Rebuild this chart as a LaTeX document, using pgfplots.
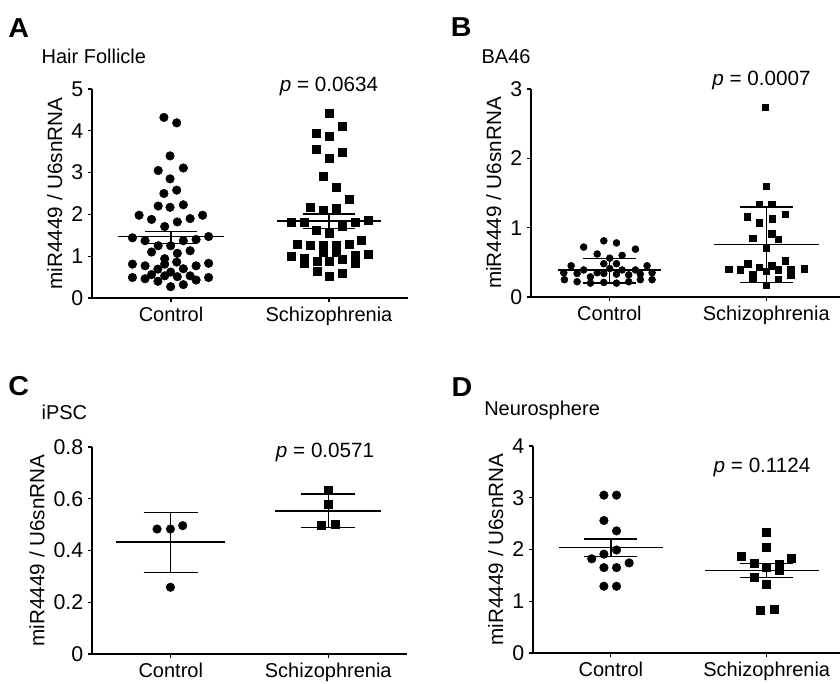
\documentclass[border=0pt]{standalone}
\usepackage{fontspec}
\setmainfont{Liberation Sans}
\usepackage{graphicx}
\usepackage{pgfplots}
\pgfplotsset{compat=1.18}

% 1 px of the reference = 0.75pt
\newcommand{\fs}{\fontsize{15}{18}\selectfont}
\newcommand{\fl}{\fontsize{15.5}{18}\selectfont}
\newcommand{\plabel}[1]{\scalebox{1.05}[1]{\fontsize{20.5}{24}\selectfont\bfseries #1}}
\pgfplotsset{
  panel/.style={
    scale only axis, anchor=south west, clip=false,
    axis lines=left, axis line style={-, line width=0.8pt},
    tick align=outside, major tick length=3pt,
    tick style={black, line width=0.8pt},
    xmin=0.5, xtick={1,2}, xticklabels={Control,Schizophrenia},
    xticklabel style={font=\fs},
    yticklabel style={font=\fontsize{16}{18}\selectfont},
    /pgf/number format/assume math mode=true,
    ylabel={miR4449 / U6snRNA}, ylabel style={font=\fl},
  },
  ctrl/.style={only marks, mark=*, mark size=3.2pt, mark options={draw=black, fill=black}},
  scz/.style={only marks, mark=square*, mark size=3pt, mark options={draw=black, fill=black}},
}
\newcommand{\hseg}[3]{\addplot[black, line width=1pt] coordinates {(#1,#3) (#2,#3)};}
\newcommand{\vseg}[3]{\addplot[black, line width=1pt] coordinates {(#1,#2) (#1,#3)};}

\begin{document}
\begin{tikzpicture}
\path[use as bounding box] (0,0) rectangle (630pt,-513pt);

% ---------- A ----------
\node[anchor=west, inner sep=0] at (6pt,-21pt) {\plabel{A}};
\node[anchor=west, inner sep=0, font=\fs] at (31pt,-42pt) {Hair Follicle};
\begin{axis}[panel, at={(69pt,-223.5pt)}, width=237pt, height=156.75pt,
  xmax=2.5, ymin=0, ymax=5, ytick={0,1,2,3,4,5}]
\addplot[ctrl] table {
0.955 4.32
1.036 4.19
0.994 3.40
0.919 3.05
1.078 3.11
0.994 2.85
0.955 2.50
1.036 2.58
0.919 2.20
0.994 2.17
1.078 2.23
0.798 1.98
0.877 1.88
1.040 1.82
1.121 1.90
1.200 1.98
0.960 1.71
0.756 1.44
0.836 1.37
0.919 1.25
0.998 1.25
1.078 1.37
1.159 1.40
1.238 1.47
0.877 1.10
1.040 1.07
1.121 1.13
0.960 0.94
0.756 0.81
0.836 0.77
0.960 0.81
1.036 0.86
0.917 0.69
1.078 0.70
1.159 0.77
1.238 0.83
0.756 0.49
0.836 0.46
0.877 0.56
0.917 0.40
0.960 0.53
0.998 0.62
1.040 0.51
1.121 0.53
1.159 0.43
1.238 0.49
0.998 0.27
1.078 0.32
};
\addplot[scz] table {
2.000 4.43
2.081 4.11
1.919 3.94
2.000 3.88
1.919 3.57
2.081 3.49
2.000 3.35
1.962 2.92
2.047 2.66
2.127 2.36
1.881 2.18
1.962 2.11
2.047 2.15
1.762 1.82
1.843 1.80
2.166 1.82
2.246 1.87
1.919 1.63
2.000 1.56
2.081 1.72
1.800 1.28
1.881 1.26
1.962 1.25
2.047 1.26
1.962 1.10
2.047 1.10
2.127 1.29
2.204 1.39
1.762 1.00
1.843 0.95
1.843 0.83
1.924 0.88
2.000 0.88
2.081 0.93
2.166 1.02
2.166 0.83
2.246 1.04
1.924 0.65
2.000 0.51
2.081 0.59
};
\hseg{0.665}{1.335}{1.47} \hseg{0.834}{1.166}{1.595} \hseg{0.834}{1.166}{1.31} \vseg{1}{1.31}{1.595}
\hseg{1.668}{2.332}{1.84} \hseg{1.834}{2.166}{2.01} \hseg{1.834}{2.166}{1.66} \vseg{2}{1.66}{2.01}
\node[font=\fl] at (axis cs:2,5.05) {\textit{p} = 0.0634};
\end{axis}

% ---------- B ----------
\node[anchor=west, inner sep=0] at (338pt,-20.5pt) {\plabel{B}};
\node[anchor=west, inner sep=0, font=\fs] at (361pt,-42.75pt) {BA46};
\begin{axis}[panel, at={(398.25pt,-222.75pt)}, width=231.75pt, height=156pt,
  xmax=2.47, ymin=0, ymax=3, ytick={0,1,2,3},
  ctrl/.append style={mark size=2.6pt}, scz/.append style={mark size=2.4pt}]
\addplot[ctrl] table {
0.964 0.81
1.045 0.78
0.836 0.72
1.166 0.69
0.922 0.62
1.002 0.56
1.081 0.60
0.756 0.45
0.964 0.48
1.045 0.48
1.240 0.45
0.836 0.39
0.922 0.35
1.002 0.41
1.081 0.39
1.166 0.39
0.709 0.35
1.272 0.35
0.794 0.34
0.879 0.29
0.964 0.34
1.045 0.33
1.123 0.32
1.197 0.33
0.713 0.25
0.794 0.22
0.879 0.20
0.964 0.21
1.045 0.20
1.123 0.22
1.197 0.25
1.272 0.25
};
\addplot[scz] table {
1.994 2.74
2.000 1.60
1.957 1.34
2.036 1.34
1.877 1.16
1.957 1.07
2.040 1.13
2.121 1.19
1.915 0.85
2.036 0.91
2.078 0.83
2.000 0.70
2.121 0.52
1.760 0.40
1.881 0.48
1.834 0.39
1.957 0.43
2.036 0.45
2.078 0.39
2.157 0.40
2.242 0.41
1.915 0.33
2.000 0.37
2.157 0.31
1.915 0.28
2.078 0.26
2.000 0.17
};
\hseg{0.67}{1.33}{0.39} \hseg{0.83}{1.17}{0.56} \hseg{0.83}{1.17}{0.20} \vseg{1}{0.20}{0.56}
\hseg{1.665}{2.335}{0.755} \hseg{1.83}{2.17}{1.30} \hseg{1.83}{2.17}{0.21} \vseg{2}{0.21}{1.30}
\node[font=\fl] at (axis cs:1.97,3.13) {\textit{p} = 0.0007};
\end{axis}

% ---------- C ----------
\node[anchor=west, inner sep=0] at (6pt,-289.5pt) {\plabel{C}};
\node[anchor=west, inner sep=0, font=\fs] at (31pt,-309pt) {iPSC};
\begin{axis}[panel, at={(69pt,-490.5pt)}, width=236.25pt, height=155.25pt,
  xmax=2.5, ymin=0, ymax=0.8, ytick={0,0.2,0.4,0.6,0.8}]
\addplot[ctrl] table {
0.913 0.483
0.998 0.483
1.076 0.496
0.998 0.258
};
\addplot[scz] table {
2.000 0.631
2.000 0.580
1.957 0.496
2.043 0.502
};
\hseg{0.655}{1.345}{0.433} \hseg{0.828}{1.172}{0.546} \hseg{0.828}{1.172}{0.316} \vseg{1}{0.316}{0.546}
\hseg{1.665}{2.335}{0.553} \hseg{1.83}{2.17}{0.618} \hseg{1.83}{2.17}{0.488} \vseg{2}{0.488}{0.618}
\node[font=\fl] at (axis cs:1.98,0.78) {\textit{p} = 0.0571};
\end{axis}

% ---------- D ----------
\node[anchor=west, inner sep=0] at (338.5pt,-290pt) {\plabel{D}};
\node[anchor=west, inner sep=0, font=\fs] at (363pt,-307.5pt) {Neurosphere};
\begin{axis}[panel, at={(399.75pt,-489.75pt)}, width=230.25pt, height=155.25pt,
  xmax=2.47, ymin=0, ymax=4, ytick={0,1,2,3,4}]
\addplot[ctrl] table {
0.955 3.05
1.036 3.05
0.955 2.56
1.036 2.36
1.036 1.99
0.877 1.82
0.955 1.91
1.117 1.74
0.955 1.65
1.036 1.65
0.955 1.29
1.036 1.29
};
\addplot[scz] table {
2.000 2.33
2.000 2.04
1.839 1.87
2.157 1.84
1.917 1.73
2.078 1.71
2.000 1.65
2.078 1.59
1.917 1.47
2.000 1.33
1.960 0.82
2.045 0.85
};
\hseg{0.667}{1.333}{2.04} \hseg{0.83}{1.17}{2.20} \hseg{0.83}{1.17}{1.86} \vseg{1}{1.86}{2.20}
\hseg{1.605}{2.335}{1.60} \hseg{1.83}{2.17}{1.73} \hseg{1.83}{2.17}{1.46} \vseg{2}{1.46}{1.73}
\node[font=\fl] at (axis cs:1.97,3.59) {\textit{p} = 0.1124};
\end{axis}
\end{tikzpicture}
\end{document}
